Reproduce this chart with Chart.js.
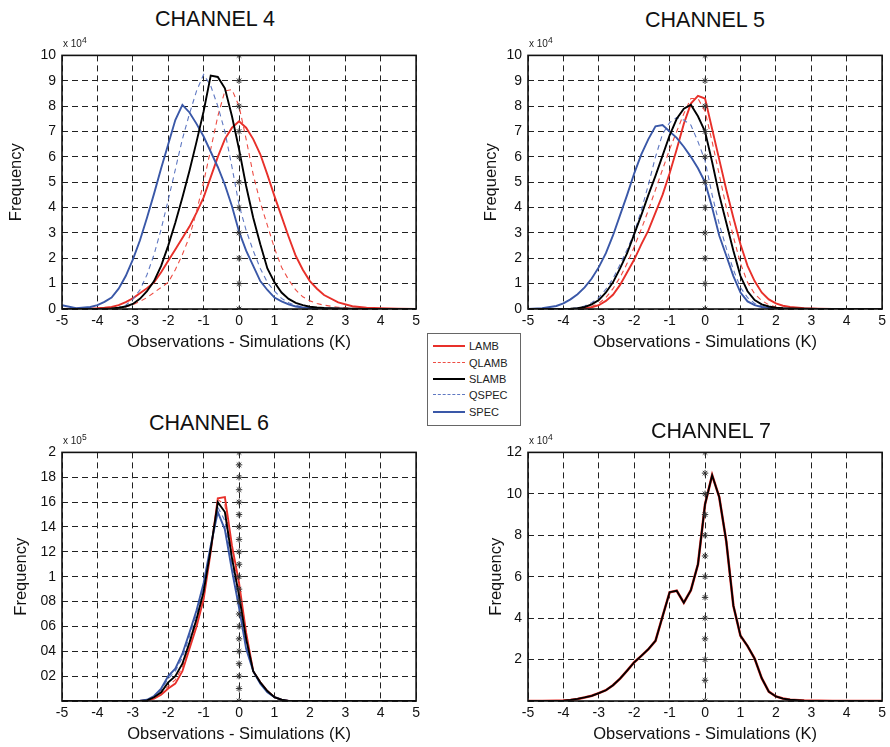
<!DOCTYPE html>
<html>
<head>
<meta charset="utf-8">
<script src="https://cdn.jsdelivr.net/npm/chart.js@4.4.1/dist/chart.umd.min.js"></script>
<style>
  body { margin: 0; background: #fff; font-family: "Liberation Sans", Arial, sans-serif; }
  #page { position: relative; width: 890px; height: 747px; overflow: hidden; }
  #page canvas { position: absolute; }
  .title { position: absolute; font-size: 21.5px; color: #111; transform: translate(-50%, -50%); white-space: nowrap; }
  .mult { position: absolute; font-size: 10px; color: #222; white-space: nowrap; }
  .mult sup { font-size: 8.5px; }
  #legend { position: absolute; left: 427px; top: 333px; width: 94px; height: 93px; border: 1px solid #666; background: #fff; box-sizing: border-box; z-index: 5; }
  .lg-line { position: absolute; left: 5px; width: 32px; height: 0; }
  .lg-text { position: absolute; left: 41px; font-size: 11px; color: #222; transform: translateY(-50%); }
</style>
</head>
<body>
<div id="page"></div>
<script>
// --- DATA ---
const xGrid = [-5, -4.6, -4.2, -4.0, -3.8, -3.6, -3.4, -3.2, -3.0, -2.8, -2.6, -2.4, -2.2, -2.0, -1.8, -1.6, -1.4, -1.2, -1.0, -0.8,
  -0.6, -0.4, -0.2, 0, 0.2, 0.4, 0.6, 0.8, 1.0, 1.2, 1.4, 1.6, 1.8, 2.0, 2.2, 2.4, 2.8, 3.2, 3.6, 4.0, 4.5, 5];

const seriesNames = ['LAMB', 'QLAMB', 'SLAMB', 'QSPEC', 'SPEC'];
const seriesColors = ['#e8302a', '#ee4d44', '#000000', '#5f78c2', '#3a58a8'];
const seriesDashed = [false, true, false, true, false];

// channel 4 (x 10^4)
const ch4Lamb  = [0, 0.01, 0.02, 0.03, 0.05, 0.08, 0.15, 0.27, 0.42, 0.62, 0.82, 1.05, 1.45, 1.9, 2.35, 2.8, 3.25, 3.8, 4.4, 5.2,
  6.0, 6.7, 7.15, 7.4, 7.15, 6.7, 6.1, 5.3, 4.45, 3.65, 2.85, 2.1, 1.55, 1.1, 0.8, 0.55, 0.26, 0.11, 0.05, 0.03, 0.01, 0];
const ch4Qlamb = [0, 0, 0, 0.005, 0.01, 0.02, 0.04, 0.08, 0.17, 0.3, 0.45, 0.65, 0.85, 1.05, 1.55, 2.15, 2.85, 3.85, 5.0, 6.3,
  7.6, 8.6, 8.65, 8.0, 6.7, 5.3, 4.2, 3.3, 2.4, 1.65, 1.15, 0.75, 0.48, 0.32, 0.22, 0.15, 0.07, 0.03, 0.01, 0, 0, 0];
const ch4Slamb = [0, 0, 0, 0.005, 0.01, 0.02, 0.05, 0.1, 0.2, 0.4, 0.7, 1.1, 1.7, 2.5, 3.4, 4.4, 5.45, 6.6, 7.8, 9.2,
  9.15, 8.7, 7.6, 6.3, 4.85, 3.6, 2.55, 1.6, 1.05, 0.65, 0.4, 0.24, 0.15, 0.09, 0.06, 0.04, 0.02, 0.01, 0, 0, 0, 0];
const ch4Qspec = [0, 0, 0, 0.005, 0.01, 0.02, 0.06, 0.15, 0.38, 0.75, 1.35, 2.15, 3.15, 4.3, 5.5, 6.7, 7.7, 8.6, 9.25, 8.8,
  8.0, 7.0, 5.6, 4.1, 3.1, 2.3, 1.6, 1.05, 0.7, 0.42, 0.25, 0.14, 0.08, 0.05, 0.03, 0.02, 0.01, 0, 0, 0, 0, 0];
const ch4Spec  = [0.15, 0.03, 0.08, 0.15, 0.28, 0.45, 0.8, 1.3, 1.95, 2.7, 3.6, 4.55, 5.55, 6.5, 7.45, 8.05, 7.75, 7.3, 6.8, 6.2,
  5.6, 4.9, 4.05, 3.05, 2.3, 1.7, 1.1, 0.75, 0.45, 0.3, 0.18, 0.1, 0.06, 0.04, 0.03, 0.02, 0.01, 0, 0, 0, 0, 0];

// channel 5 (x 10^4)
const ch5Lamb  = [0, 0, 0, 0, 0.005, 0.01, 0.03, 0.07, 0.15, 0.32, 0.56, 0.95, 1.45, 1.95, 2.55, 3.1, 3.8, 4.5, 5.35, 6.3,
  7.3, 8.1, 8.4, 8.3, 7.1, 5.9, 4.7, 3.6, 2.55, 1.7, 1.1, 0.65, 0.38, 0.22, 0.13, 0.08, 0.03, 0.01, 0, 0, 0, 0];
const ch5Qlamb = [0, 0, 0, 0, 0.01, 0.02, 0.04, 0.1, 0.22, 0.45, 0.8, 1.25, 1.8, 2.45, 3.15, 3.9, 4.7, 5.5, 6.3, 7.0,
  7.7, 8.3, 8.3, 7.8, 6.6, 5.3, 4.0, 2.85, 1.8, 1.05, 0.6, 0.33, 0.17, 0.08, 0.04, 0.02, 0.01, 0, 0, 0, 0, 0];
const ch5Slamb = [0, 0, 0, 0.005, 0.01, 0.03, 0.08, 0.18, 0.35, 0.65, 1.05, 1.6, 2.2, 2.95, 3.7, 4.5, 5.25, 6.05, 6.85, 7.5,
  7.9, 8.05, 7.6, 7.0, 5.8, 4.5, 3.4, 2.3, 1.3, 0.7, 0.35, 0.18, 0.1, 0.05, 0.03, 0.02, 0.01, 0, 0, 0, 0, 0];
const ch5Qspec = [0, 0, 0.005, 0.01, 0.02, 0.05, 0.12, 0.25, 0.45, 0.78, 1.2, 1.75, 2.35, 3.0, 3.9, 4.9, 6.0, 6.9, 7.35, 7.55,
  7.45, 7.25, 6.6, 5.85, 4.5, 3.35, 2.4, 1.55, 0.85, 0.45, 0.22, 0.12, 0.06, 0.03, 0.02, 0.01, 0, 0, 0, 0, 0, 0];
const ch5Spec  = [0, 0.03, 0.12, 0.22, 0.38, 0.58, 0.85, 1.2, 1.65, 2.2, 2.9, 3.7, 4.5, 5.35, 6.1, 6.7, 7.2, 7.25, 7.0, 6.75,
  6.4, 6.0, 5.55, 5.0, 4.0, 2.9, 2.1, 1.3, 0.65, 0.3, 0.15, 0.08, 0.04, 0.02, 0.01, 0.005, 0, 0, 0, 0, 0, 0];

// channel 6 (x 10^5)
const ch6Lamb  = [0, 0, 0, 0, 0, 0, 0, 0, 0, 0, 0.005, 0.02, 0.05, 0.1, 0.14, 0.24, 0.42, 0.6, 0.82, 1.2,
  1.63, 1.64, 1.25, 0.95, 0.55, 0.24, 0.15, 0.08, 0.03, 0.01, 0, 0, 0, 0, 0, 0, 0, 0, 0, 0, 0, 0];
const ch6Qlamb = [0, 0, 0, 0, 0, 0, 0, 0, 0, 0, 0.005, 0.025, 0.06, 0.12, 0.17, 0.27, 0.45, 0.63, 0.85, 1.21,
  1.62, 1.58, 1.2, 0.9, 0.52, 0.24, 0.15, 0.08, 0.03, 0.01, 0, 0, 0, 0, 0, 0, 0, 0, 0, 0, 0, 0];
const ch6Slamb = [0, 0, 0, 0, 0, 0, 0, 0, 0, 0, 0.005, 0.03, 0.07, 0.15, 0.2, 0.3, 0.47, 0.66, 0.88, 1.22,
  1.6, 1.52, 1.15, 0.85, 0.5, 0.24, 0.15, 0.08, 0.03, 0.01, 0, 0, 0, 0, 0, 0, 0, 0, 0, 0, 0, 0];
const ch6Qspec = [0, 0, 0, 0, 0, 0, 0, 0, 0, 0, 0.008, 0.035, 0.09, 0.18, 0.24, 0.35, 0.52, 0.7, 0.92, 1.24,
  1.56, 1.45, 1.1, 0.8, 0.45, 0.24, 0.14, 0.07, 0.03, 0.01, 0, 0, 0, 0, 0, 0, 0, 0, 0, 0, 0, 0];
const ch6Spec  = [0, 0, 0, 0, 0, 0, 0, 0, 0, 0.003, 0.01, 0.04, 0.1, 0.2, 0.26, 0.38, 0.55, 0.73, 0.95, 1.25,
  1.52, 1.38, 1.05, 0.75, 0.42, 0.24, 0.14, 0.07, 0.03, 0.01, 0, 0, 0, 0, 0, 0, 0, 0, 0, 0, 0, 0];

// channel 7 (x 10^4) - all configurations coincide
const ch7Lamb  = [0, 0, 0.01, 0.02, 0.05, 0.1, 0.17, 0.25, 0.38, 0.52, 0.76, 1.08, 1.47, 1.87, 2.18, 2.5, 2.9, 4.08, 5.25, 5.32,
  4.75, 5.35, 6.6, 9.5, 10.9, 9.85, 7.7, 4.6, 3.15, 2.65, 2.05, 1.1, 0.45, 0.22, 0.12, 0.06, 0.02, 0.01, 0, 0, 0, 0];
const ch7Slamb = [0, 0, 0.01, 0.02, 0.05, 0.1, 0.17, 0.25, 0.38, 0.52, 0.76, 1.08, 1.47, 1.87, 2.18, 2.5, 2.9, 4.08, 5.25, 5.32,
  4.75, 5.35, 6.6, 9.5, 10.9, 9.85, 7.7, 4.6, 3.15, 2.65, 2.05, 1.1, 0.45, 0.22, 0.12, 0.06, 0.02, 0.01, 0, 0, 0, 0];

// star markers along the zero line
const ch4Stars = [0, 1, 2, 3, 4, 5, 6, 7, 8, 9, 10];
const ch5Stars = [0, 1, 2, 3, 4, 5, 6, 7, 8, 9, 10];
const ch6Stars = [0, 0.1, 0.2, 0.3, 0.4, 0.5, 0.6, 0.7, 0.8, 0.9, 1.0, 1.1, 1.2, 1.3, 1.4, 1.5, 1.6, 1.7, 1.8, 1.9, 2.0];
const ch7Stars = [0, 1, 2, 3, 4, 5, 6, 7, 8, 9, 10, 11, 12];

// tick labels as printed on the figure
const ch6TickLabels = ['', '02', '04', '06', '08', '1', '12', '14', '16', '18', '2'];
const ch7TickLabels = ['', '2', '4', '6', '8', '10', '12'];

// --- SETUP ---
Chart.defaults.font.family = '"Liberation Sans", Arial, sans-serif';
Chart.defaults.color = '#111';
const page = document.getElementById('page');

const frame = {
  id: 'frame',
  afterDatasetsDraw(chart) {
    const a = chart.chartArea, ctx = chart.ctx;
    ctx.save();
    ctx.strokeStyle = '#111';
    ctx.lineWidth = 1.6;
    ctx.strokeRect(a.left, a.top, a.right - a.left, a.bottom - a.top);
    ctx.restore();
  }
};

function lineSet(ys, k, widthScale) {
  return {
    label: seriesNames[k],
    data: xGrid.map((x, i) => ({ x, y: ys[i] })),
    showLine: true,
    borderColor: seriesColors[k],
    borderWidth: (seriesDashed[k] ? 1.1 : 1.9) * (widthScale || 1),
    borderDash: seriesDashed[k] ? [5, 4] : [],
    pointRadius: 0,
    tension: 0
  };
}

function starSet(ys) {
  return {
    label: 'zero',
    data: ys.map(y => ({ x: 0, y })),
    showLine: false,
    pointStyle: 'star',
    pointRadius: 3.2,
    borderColor: '#333',
    borderWidth: 1,
    backgroundColor: '#333'
  };
}

function buildChart(p) {
  // p.left/top/w/h = plot area in page pixels
  const yAxisW = 62, padTop = 10, padRight = 7, xAxisH = 45;
  const cv = document.createElement('canvas');
  cv.width = p.w + yAxisW + padRight;
  cv.height = p.h + padTop + xAxisH;
  cv.style.left = (p.left - yAxisW) + 'px';
  cv.style.top = (p.top - padTop) + 'px';
  page.appendChild(cv);

  const gridOpts = { color: '#222', lineWidth: 1, drawTicks: false };
  new Chart(cv.getContext('2d'), {
    type: 'scatter',
    data: { datasets: p.datasets },
    options: {
      responsive: false, animation: false, devicePixelRatio: 1, events: [],
      layout: { padding: { top: padTop, right: padRight, left: 0, bottom: 0 } },
      plugins: { legend: { display: false }, tooltip: { enabled: false } },
      scales: {
        x: {
          type: 'linear', min: -5, max: 5,
          ticks: { stepSize: 1, padding: 4, color: '#111', font: { size: 14 } },
          grid: gridOpts,
          border: { display: false, dash: [6, 4] },
          title: { display: true, text: 'Observations - Simulations (K)', color: '#111', font: { size: 16.5 }, padding: { top: 0, bottom: 2 } },
          afterFit: s => { s.height = xAxisH; }
        },
        y: {
          type: 'linear', min: 0, max: p.yMax,
          ticks: {
            stepSize: p.yStep, padding: 6, color: '#111', font: { size: 14 },
            callback: p.tickLabels ? (v, i) => p.tickLabels[i] : (v => v)
          },
          grid: gridOpts,
          border: { display: false, dash: [6, 4] },
          title: { display: true, text: 'Frequency', color: '#111', font: { size: 16.5 }, padding: { top: 52.1 - p.yTitleOff, bottom: 0 } },
          afterFit: s => { s.width = yAxisW; }
        }
      }
    },
    plugins: [frame]
  });

  const t = document.createElement('div');
  t.className = 'title';
  t.textContent = p.title;
  t.style.left = p.titleX + 'px';
  t.style.top = p.titleY + 'px';
  page.appendChild(t);

  const m = document.createElement('div');
  m.className = 'mult';
  m.innerHTML = 'x 10<sup>' + p.exp + '</sup>';
  m.style.left = (p.left + 1) + 'px';
  m.style.top = (p.top - 16) + 'px';
  page.appendChild(m);
}

function stdSets(l, ql, sl, qs, s, stars) {
  return [starSet(stars), lineSet(sl, 2), lineSet(s, 4), lineSet(qs, 3), lineSet(ql, 1), lineSet(l, 0)];
}

buildChart({
  left: 62, top: 51, w: 355, h: 258, yMax: 10, yStep: 1, exp: 4, yTitleOff: 45.6,
  title: 'CHANNEL 4', titleX: 215, titleY: 19,
  datasets: stdSets(ch4Lamb, ch4Qlamb, ch4Slamb, ch4Qspec, ch4Spec, ch4Stars)
});
buildChart({
  left: 528, top: 51, w: 355, h: 258, yMax: 10, yStep: 1, exp: 4, yTitleOff: 36.3,
  title: 'CHANNEL 5', titleX: 705, titleY: 20,
  datasets: stdSets(ch5Lamb, ch5Qlamb, ch5Slamb, ch5Qspec, ch5Spec, ch5Stars)
});
buildChart({
  left: 62, top: 448, w: 355, h: 253, yMax: 2, yStep: 0.2, exp: 5, yTitleOff: 40.6, tickLabels: ch6TickLabels,
  title: 'CHANNEL 6', titleX: 209, titleY: 423,
  datasets: stdSets(ch6Lamb, ch6Qlamb, ch6Slamb, ch6Qspec, ch6Spec, ch6Stars)
});
buildChart({
  left: 528, top: 448, w: 355, h: 253, yMax: 12, yStep: 2, exp: 4, yTitleOff: 31.6, tickLabels: ch7TickLabels,
  title: 'CHANNEL 7', titleX: 711, titleY: 431,
  datasets: [starSet(ch7Stars), lineSet(ch7Slamb, 2, 0.95), lineSet(ch7Lamb, 0, 1.35)]
});

// --- LEGEND ---
const legend = document.createElement('div');
legend.id = 'legend';
const rowY = [12, 29, 45, 61, 78];
seriesNames.forEach((name, k) => {
  const ln = document.createElement('div');
  ln.className = 'lg-line';
  ln.style.top = (rowY[k] - 1) + 'px';
  ln.style.borderTop = (seriesDashed[k] ? '1.2px dashed ' : '2px solid ') + seriesColors[k];
  legend.appendChild(ln);
  const tx = document.createElement('div');
  tx.className = 'lg-text';
  tx.style.top = rowY[k] + 'px';
  tx.textContent = name;
  legend.appendChild(tx);
});
page.appendChild(legend);
</script>
</body>
</html>
